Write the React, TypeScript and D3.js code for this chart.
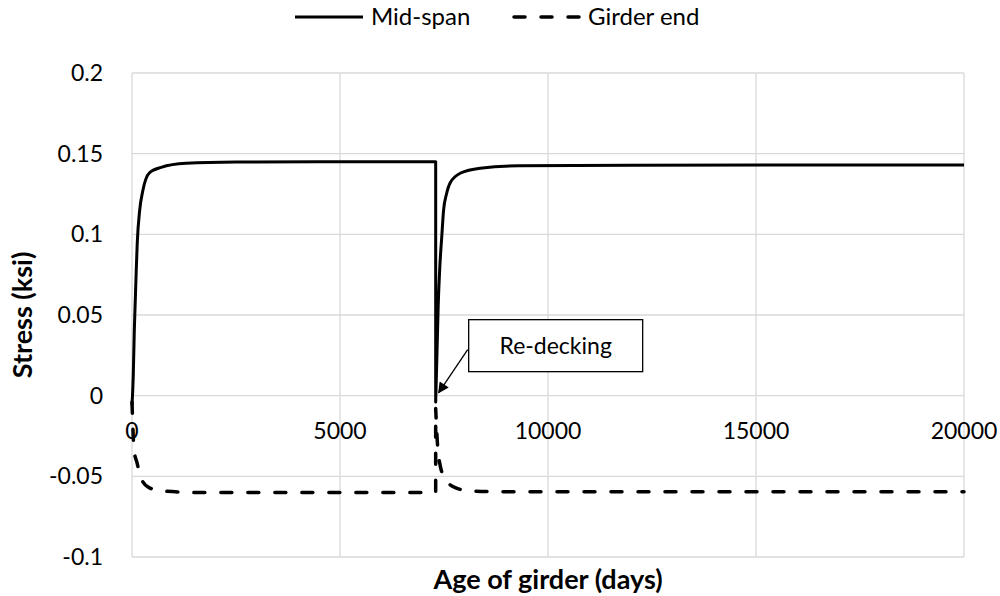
import React from "react";
import * as d3 from "d3";

// axis ticks
const xTicks = [0, 5000, 10000, 15000, 20000];
const yTicks = [-0.1, -0.05, 0, 0.05, 0.1, 0.15, 0.2];
const yTickLabels = ["-0.1", "-0.05", "0", "0.05", "0.1", "0.15", "0.2"];

// Mid-span stress, before and after re-decking
const midDays1 = [0, 30, 55, 80, 100, 125, 185, 260, 415, 700, 1300, 2500, 4500, 7300];
const midStress1 = [-0.006, 0.012, 0.04, 0.06, 0.076, 0.094, 0.115, 0.127, 0.138, 0.1415, 0.144, 0.1448, 0.145, 0.145];
const midDays2 = [7300, 7330, 7360, 7400, 7450, 7490, 7560, 7650, 7900, 8370, 9300, 12000, 20000];
const midStress2 = [-0.004, 0.025, 0.055, 0.08, 0.1, 0.115, 0.125, 0.132, 0.138, 0.141, 0.1425, 0.1428, 0.143];

// Girder end stress
const endDays1 = [0, 50, 120, 216, 408, 695, 1655, 7300];
const endStress1 = [-0.004, -0.034, -0.0415, -0.051, -0.057, -0.059, -0.06, -0.06];
const endDays2 = [7300, 7338, 7410, 7530, 7770, 8130, 8850, 20000];
const endStress2 = [-0.008, -0.028, -0.0435, -0.0515, -0.057, -0.059, -0.0595, -0.0595];

const redeckDay = 7300;

const W = 1000;
const H = 596;
const margin = { top: 73, right: 36, bottom: 39, left: 132 };
const font = "Lato, 'Open Sans', sans-serif";

const App = () => {
  const innerW = W - margin.left - margin.right;
  const innerH = H - margin.top - margin.bottom;

  const x = d3.scaleLinear().domain([0, 20000]).range([0, innerW]);
  const y = d3.scaleLinear().domain([-0.1, 0.2]).range([innerH, 0]);

  const seg = (days: number[], vals: number[]) =>
    d3
      .line<number>()
      .x((d) => x(days[d]))
      .y((d) => y(vals[d]))
      .curve(d3.curveMonotoneX)(days.map((_, i) => i)) || "";

  // second segment joined to the first, so the jump is a vertical stroke
  const midPath = seg(midDays1, midStress1) + seg(midDays2, midStress2).replace(/^M/, "L");
  const endPath = seg(endDays1, endStress1) + seg(endDays2, endStress2).replace(/^M/, "L");

  // callout position tied to the re-decking point
  const tipX = x(redeckDay) + 3;
  const tipY = y(0) - 3;
  const boxX = x(redeckDay) + 33;
  const boxY = y(0) - 76;
  const boxW = 174;
  const boxH = 52;

  return (
    <svg
      width={W}
      height={H}
      style={{ position: "absolute", left: 0, top: 0, background: "#fff" }}
    >
      <defs>
        <marker
          id="arrow"
          viewBox="0 0 10 10"
          refX="9"
          refY="5"
          markerWidth="12"
          markerHeight="11"
          markerUnits="userSpaceOnUse"
          orient="auto"
        >
          <path d="M0,0 L10,5 L0,10 z" fill="#000" />
        </marker>
      </defs>

      {/* legend */}
      <g fontFamily={font} fontSize={24} fill="#000">
        <line x1={295} x2={363} y1={17} y2={17} stroke="#000" strokeWidth={3} />
        <text x={371} y={25}>Mid-span</text>
        <line
          x1={514}
          x2={583}
          y1={17}
          y2={17}
          stroke="#000"
          strokeWidth={3.5}
          strokeDasharray="11 16"
          strokeLinecap="round"
        />
        <text x={588} y={25}>Girder end</text>
      </g>

      <g transform={`translate(${margin.left},${margin.top})`}>
        {/* grid */}
        {yTicks.map((t) => (
          <line
            key={"gy" + t}
            x1={0}
            x2={innerW}
            y1={y(t)}
            y2={y(t)}
            stroke="#d9d9d9"
            strokeWidth={1.3}
          />
        ))}
        {xTicks.map((t) => (
          <line
            key={"gx" + t}
            x1={x(t)}
            x2={x(t)}
            y1={0}
            y2={innerH}
            stroke="#d9d9d9"
            strokeWidth={1.3}
          />
        ))}

        {/* y tick labels */}
        <g fontFamily={font} fontSize={23} fill="#000" textAnchor="end">
          {yTicks.map((t, i) => (
            <text key={"yl" + t} x={-29} y={y(t) + 8}>
              {yTickLabels[i]}
            </text>
          ))}
        </g>

        {/* x tick labels, under the zero line */}
        <g fontFamily={font} fontSize={23} fill="#000" textAnchor="middle">
          {xTicks.map((t) => (
            <text key={"xl" + t} x={x(t)} y={y(0) + 43}>
              {d3.format("d")(t)}
            </text>
          ))}
        </g>

        {/* series */}
        <path d={endPath} fill="none" stroke="#000" strokeWidth={3.5} strokeDasharray="11 16" strokeLinecap="round" strokeLinejoin="round" />
        <path d={midPath} fill="none" stroke="#000" strokeWidth={3} strokeLinejoin="round" />

        {/* callout */}
        <rect x={boxX} y={boxY} width={boxW} height={boxH} fill="#fff" stroke="#000" strokeWidth={1.3} />
        <text
          x={boxX + boxW / 2}
          y={boxY + boxH / 2 + 8}
          textAnchor="middle"
          fontFamily={font}
          fontSize={23}
        >
          Re-decking
        </text>
        <line
          x1={boxX - 1}
          y1={boxY + 30}
          x2={tipX}
          y2={tipY}
          stroke="#000"
          strokeWidth={1.3}
          markerEnd="url(#arrow)"
        />

        {/* axis titles */}
        <text
          x={innerW / 2}
          y={innerH + 32}
          textAnchor="middle"
          fontFamily={font}
          fontSize={27}
          fontWeight="bold"
        >
          Age of girder (days)
        </text>
        <text
          transform={`translate(${-margin.left + 32},${innerH / 2}) rotate(-90)`}
          textAnchor="middle"
          fontFamily={font}
          fontSize={27}
          fontWeight="bold"
        >
          Stress (ksi)
        </text>
      </g>
    </svg>
  );
};

export default App;
